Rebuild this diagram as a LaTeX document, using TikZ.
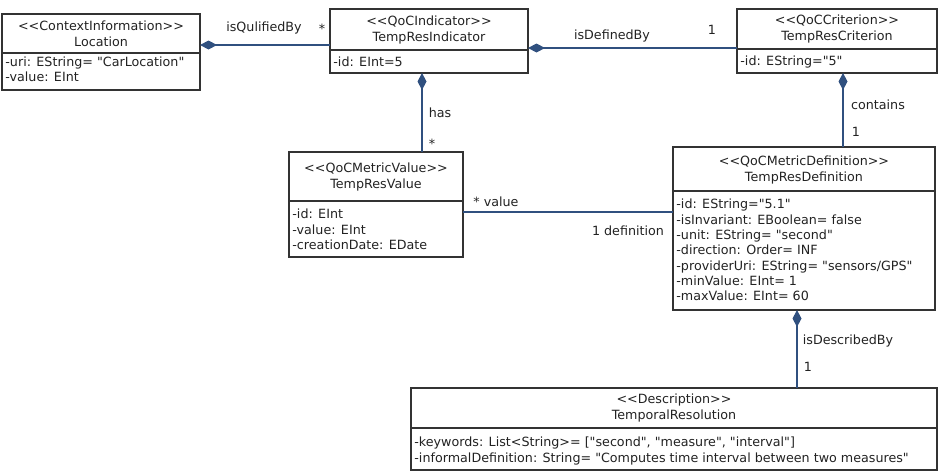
\documentclass[tikz,border=0pt]{standalone}
\usepackage{fontspec}
\newfontfamily\dvs{DejaVu Sans}
\usetikzlibrary{arrows.meta}
\definecolor{lnk}{HTML}{30507F}
\definecolor{bord}{HTML}{333333}
\definecolor{txt}{HTML}{222222}
\newcommand\fs{\dvs\fontsize{12.7}{15.3}\selectfont}
\newcommand\fh{\dvs\fontsize{12.7}{16}\selectfont}
\tikzset{
  cls/.style={draw=bord, line width=1.2pt, inner sep=0pt, outer sep=0pt, anchor=north west},
  divl/.style={draw=bord, line width=1.2pt},
  hdr/.style={align=center, inner sep=0pt, font=\fh, text=txt},
  attr/.style={align=left, anchor=north west, inner sep=0pt, font=\fs, text=txt, xshift=3.2pt},
  lbl/.style={inner sep=0pt, font=\fs, text=txt},
  assoc/.style={draw=lnk, line width=2.2pt},
  comp/.style={assoc, {Diamond[length=17pt,width=9pt]}-},
}
\begin{document}
\begin{tikzpicture}[x=1pt,y=-1pt]
\useasboundingbox (0,0) rectangle (944,471);
% Location
\node[cls, minimum width=198pt, minimum height=76pt] (loc) at (2,14) {};
\draw[divl] (loc.west |- 0,53) -- (loc.east |- 0,53);
\node[hdr] (locH) at (loc.north |- 0,33.5) {<<ContextInformation>>\\Location};
\node[attr] (locA) at (loc.west |- 0,56.5) {-uri: EString= "CarLocation"\\-value: EInt};
% Indicator
\node[cls, minimum width=198pt, minimum height=64pt] (ind) at (330,9) {};
\draw[divl] (ind.west |- 0,50) -- (ind.east |- 0,50);
\node[hdr] (indH) at (ind.north |- 0,29.5) {<<QoCIndicator>>\\TempResIndicator};
\node[attr] (indA) at (ind.west |- 0,56.5) {-id: EInt=5};
% Criterion
\node[cls, minimum width=200pt, minimum height=64pt] (cri) at (737,9) {};
\draw[divl] (cri.west |- 0,49) -- (cri.east |- 0,49);
\node[hdr] (criH) at (cri.north |- 0,29) {<<QoCCriterion>>\\TempResCriterion};
\node[attr] (criA) at (cri.west |- 0,55.5) {-id: EString="5"};
% Value
\node[cls, minimum width=174pt, minimum height=105pt] (val) at (289,152) {};
\draw[divl] (val.west |- 0,201) -- (val.east |- 0,201);
\node[hdr] (valH) at (val.north |- 0,177) {<<QoCMetricValue>>\\TempResValue};
\node[attr] (valA) at (val.west |- 0,209) {-id: EInt\\-value: EInt\\-creationDate: EDate};
% Definition
\node[cls, minimum width=262pt, minimum height=163pt] (def) at (673,147) {};
\draw[divl] (def.west |- 0,191) -- (def.east |- 0,191);
\node[hdr] (defH) at (def.north |- 0,169.5) {<<QoCMetricDefinition>>\\TempResDefinition};
\node[attr] (defA) at (def.west |- 0,199) {-id: EString="5.1"\\-isInvariant: EBoolean= false\\-unit: EString= "second"\\-direction: Order= INF\\-providerUri: EString= "sensors/GPS"\\-minValue: EInt= 1\\-maxValue: EInt= 60};
% Temporal Resolution
\node[cls, minimum width=526pt, minimum height=82pt] (tr) at (411,388) {};
\draw[divl] (tr.west |- 0,428) -- (tr.east |- 0,428);
\node[hdr] (trH) at (tr.north |- 0,408) {<<Description>>\\TemporalResolution};
\node[attr] (trA) at (tr.west |- 0,437) {-keywords: List<String>= ["second", "measure", "interval"]\\-informalDefinition: String= "Computes time interval between two measures"};
% connectors
\coordinate (c1) at (0,45);
\coordinate (c2) at (0,48);
\coordinate (c3) at (422,0);
\coordinate (c4) at (843,0);
\coordinate (c5) at (0,212);
\coordinate (c6) at (797,0);
\draw[comp] (loc.east |- c1) -- (ind.west |- c1);
\draw[comp] (ind.east |- c2) -- (cri.west |- c2);
\draw[comp] (ind.south -| c3) -- (val.north -| c3);
\draw[comp] (cri.south -| c4) -- (def.north -| c4);
\draw[assoc] (val.east |- c5) -- (def.west |- c5);
\draw[comp] (def.south -| c6) -- (tr.north -| c6);
% labels
\node[lbl] (l1) at (264,28) {isQulifiedBy};
\node[lbl] (l2) at (322,29) {*};
\node[lbl] (l3) at (612,36) {isDefinedBy};
\node[lbl] (l4) at (712,30) {1};
\node[lbl] (l5) at (440,113) {has};
\node[lbl] (l6) at (432,144) {*};
\node[lbl] (l7) at (878,105) {contains};
\node[lbl] (l8) at (856,132) {1};
\node[lbl] (l9) at (496,202) {* value};
\node[lbl] (l10) at (628,231) {1 definition};
\node[lbl] (l11) at (848,341) {isDescribedBy};
\node[lbl] (l12) at (808,367) {1};
\end{tikzpicture}
\end{document}
